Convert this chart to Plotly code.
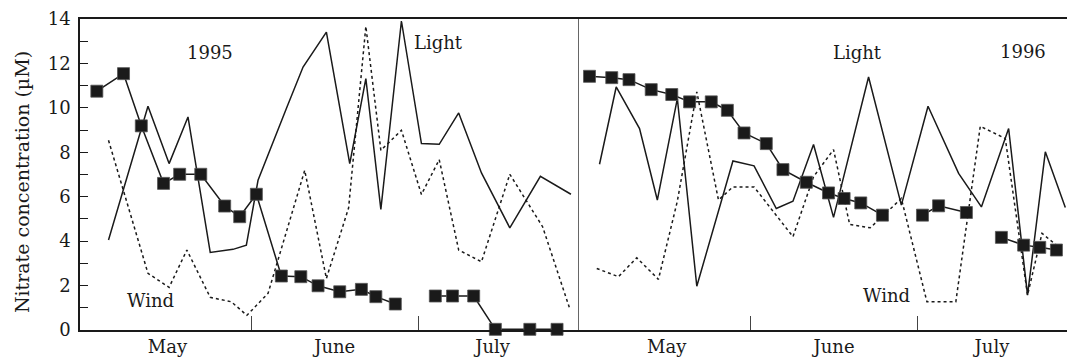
import plotly.graph_objects as go

# x values: days since 1 May
# ---- 1995 ----
n95_day = [3.2, 8.0, 11.2, 15.2, 18.1, 21.9, 26.2, 28.9, 31.9, 36.4, 39.9, 43.0, 46.9, 50.8, 53.4, 56.9,
           None, 64.1, 67.2, 71.0, 74.9, 81.1, 86.0]
n95_val = [10.75, 11.54, 9.19, 6.60, 7.01, 7.01, 5.58, 5.10, 6.11, 2.43, 2.40, 1.99, 1.72, 1.83, 1.50, 1.17,
           None, 1.53, 1.53, 1.53, 0.03, 0.03, 0.03]
light95_day = [5.3, 12.4, 16.2, 19.6, 23.6, 27.7, 30.1, 32.2, 37.3, 40.3, 44.5, 48.7, 51.6, 54.3, 58.0,
               61.6, 64.8, 68.3, 72.4, 77.5, 83.0, 88.5]
light95_val = [4.05, 10.07, 7.49, 9.59, 3.49, 3.63, 3.82, 6.74, 9.97, 11.84, 13.41, 7.49, 11.32, 5.43, 13.91,
               8.39, 8.36, 9.77, 7.07, 4.60, 6.92, 6.11]
wind95_day = [5.3, 12.4, 16.2, 19.4, 23.6, 27.4, 30.2, 34.0, 40.6, 44.5, 48.5, 51.6, 54.3, 58.0,
              61.6, 64.8, 68.3, 72.4, 77.5, 83.4, 88.2]
wind95_val = [8.54, 2.55, 1.92, 3.60, 1.47, 1.27, 0.66, 1.65, 7.19, 2.32, 5.50, 13.67, 8.09, 8.99,
              6.10, 7.67, 3.60, 3.07, 7.01, 4.65, 1.02]

# ---- 1996 ----
n96_day = [2.0, 6.0, 9.1, 13.1, 16.8, 20.0, 23.9, 26.8, 29.8, 33.8, 36.8, 41.0, 45.0, 47.8, 50.8, 54.7,
           None, 61.9, 64.8, 69.8, None, 76.1, 80.1, 83.0, 86.0]
n96_val = [11.42, 11.36, 11.27, 10.82, 10.60, 10.27, 10.27, 9.89, 8.87, 8.39, 7.22, 6.65, 6.17, 5.92, 5.72, 5.17,
           None, 5.17, 5.59, 5.29, None, 4.17, 3.82, 3.72, 3.60]
light96_day = [3.8, 6.8, 11.0, 14.2, 17.8, 21.3, 27.8, 31.6, 35.6, 38.6, 42.3, 45.9, 52.2, 58.1, 62.9,
               68.4, 72.5, 77.4, 80.8, 84.0, 87.6]
light96_val = [7.46, 10.94, 9.07, 5.85, 10.42, 1.97, 7.61, 7.39, 5.47, 5.80, 8.35, 5.07, 11.39, 5.62, 10.07,
               7.05, 5.54, 9.07, 1.57, 8.02, 5.51]
wind96_day = [3.3, 7.2, 10.5, 14.4, 17.8, 21.3, 25.2, 27.8, 31.6, 38.6, 42.3, 45.9, 48.8, 52.5, 58.1,
              62.7, 67.9, 72.3, 76.8, 80.8, 83.4, 86.0]
wind96_val = [2.77, 2.40, 3.25, 2.28, 5.80, 10.72, 5.85, 6.44, 6.44, 4.20, 6.90, 8.12, 4.75, 4.60, 5.92,
              1.27, 1.27, 9.17, 8.62, 1.57, 4.35, 3.82]

month_pos = [15.9, 46.0, 74.4]
month_labels = ["May", "June", "July"]
month_bounds = [31, 61]

FONT = "DejaVu Serif"
BLACK = "#1a1a1a"

fig = go.Figure()

def add_panel(xa, ya, lday, lval, wday, wval, nday, nval):
    fig.add_trace(go.Scatter(x=lday, y=lval, mode="lines", line=dict(color=BLACK, width=1.5),
                             xaxis=xa, yaxis=ya, showlegend=False))
    fig.add_trace(go.Scatter(x=wday, y=wval, mode="lines", line=dict(color=BLACK, width=1.5, dash="dot"),
                             xaxis=xa, yaxis=ya, showlegend=False))
    fig.add_trace(go.Scatter(x=nday, y=nval, mode="lines+markers", connectgaps=False, cliponaxis=False,
                             line=dict(color=BLACK, width=1.5),
                             marker=dict(symbol="square", size=12, color=BLACK,
                                         line=dict(color="#555555", width=0.8)),
                             xaxis=xa, yaxis=ya, showlegend=False))

add_panel("x", "y", light95_day, light95_val, wind95_day, wind95_val, n95_day, n95_val)
add_panel("x2", "y2", light96_day, light96_val, wind96_day, wind96_val, n96_day, n96_val)

d = 0.5053
xcommon = dict(showgrid=False, zeroline=False, showline=True, mirror=True, linecolor=BLACK, linewidth=1.5,
               tickmode="array", tickvals=month_pos, ticktext=month_labels, ticks="", ticklen=0,
               tickfont=dict(family=FONT, size=18, color=BLACK),
               minor=dict(tickmode="array", tickvals=month_bounds, ticks="inside", ticklen=14,
                          tickcolor="#444444", tickwidth=1))

fig.update_layout(
    width=1067, height=359,
    margin=dict(l=80, r=0, t=19, b=29),
    plot_bgcolor="white", paper_bgcolor="white",
    xaxis=dict(domain=[0, d], range=[0.17, 89.9], anchor="y", **xcommon),
    xaxis2=dict(domain=[d, 1], range=[0.06, 87.9], anchor="y2", **xcommon),
    yaxis=dict(range=[0, 14], domain=[0, 1], anchor="x", showgrid=False, zeroline=False,
               showline=True, linecolor=BLACK, linewidth=1.5,
               tickmode="array", tickvals=[0, 2, 4, 6, 8, 10, 12, 14], ticks="inside", ticklen=8,
               tickcolor=BLACK, tickwidth=1, ticklabelstandoff=4,
               tickfont=dict(family=FONT, size=18, color=BLACK),
               minor=dict(tickmode="array", tickvals=[1, 3, 5, 7, 9, 11, 13], ticks="inside",
                          ticklen=8, tickcolor=BLACK, tickwidth=1)),
    yaxis2=dict(range=[0, 14], domain=[0, 1], anchor="x2", matches="y", showgrid=False, zeroline=False,
                showline=True, linecolor="#666666", linewidth=1, showticklabels=False, ticks=""),
)

ann_font = dict(family=FONT, size=18, color=BLACK)
texts = [("1995", "x", "y", 23.6, 12.51), ("Wind", "x", "y", 12.8, 1.35), ("Light", "x", "y", 64.6, 12.92),
         ("Light", "x2", "y2", 50.3, 12.49), ("1996", "x2", "y2", 79.9, 12.54), ("Wind", "x2", "y2", 55.4, 1.57)]
for t, xr, yr, xv, yv in texts:
    fig.add_annotation(text=t, xref=xr, yref=yr, x=xv, y=yv, showarrow=False, font=ann_font,
                       xanchor="center", yanchor="middle")

fig.add_annotation(text="Nitrate concentration (µM)", xref="paper", yref="paper", x=-0.0593, y=0.477,
                   textangle=-90, showarrow=False, font=dict(family=FONT, size=19, color=BLACK),
                   xanchor="center", yanchor="middle")

fig.write_html("out.html")
